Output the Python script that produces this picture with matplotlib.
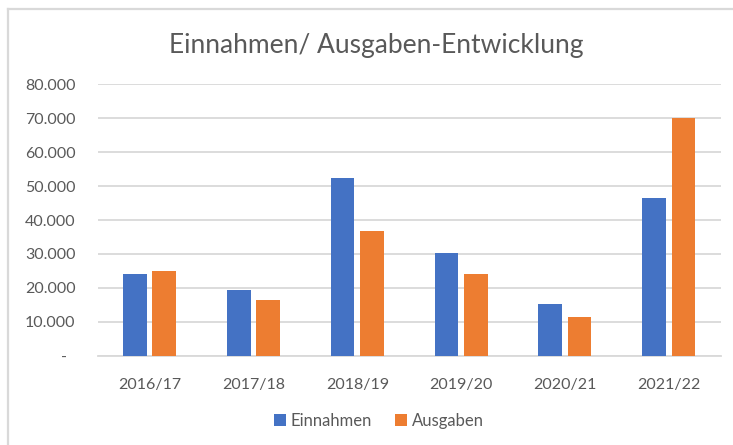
import matplotlib
matplotlib.use("Agg")
import matplotlib.pyplot as plt
import numpy as np

categories = ["2016/17", "2017/18", "2018/19", "2019/20", "2020/21", "2021/22"]
einnahmen = [24000, 19400, 52300, 30300, 15200, 46500]
ausgaben = [25100, 16500, 36700, 24000, 11500, 70000]
ytick_values = [0, 10000, 20000, 30000, 40000, 50000, 60000, 70000, 80000]
ytick_labels = ["-  ", "10.000", "20.000", "30.000", "40.000", "50.000", "60.000", "70.000", "80.000"]
title = "Einnahmen/ Ausgaben-Entwicklung"

plt.rcParams['font.family'] = ['Lato', 'DejaVu Sans']
W, H = 733, 445
fig = plt.figure(figsize=(W / 100, H / 100), dpi=100)
fig.patch.set_facecolor("white")

# outer chart border (left and top visible)
fig.add_artist(plt.Line2D([8 / W, 8 / W], [0, 1 - 9 / H], transform=fig.transFigure,
                          color="#d9d9d9", lw=1.6))
fig.add_artist(plt.Line2D([8 / W, 1], [1 - 9 / H, 1 - 9 / H], transform=fig.transFigure,
                          color="#d9d9d9", lw=1.6))

left, right = 97.7, 720.7
top, bottom = 84.3, 355.7
ax = fig.add_axes([left / W, 1 - bottom / H, (right - left) / W, (bottom - top) / H])

x = np.arange(len(categories))
bw = 0.228
off = 0.1415
ax.bar(x - off, einnahmen, width=bw, color="#4472C4", label="Einnahmen", zorder=3)
ax.bar(x + off, ausgaben, width=bw, color="#ED7D31", label="Ausgaben", zorder=3)

ax.set_xlim(-0.5, len(categories) - 0.5)
ax.set_ylim(0, 80000)
ax.set_yticks(ytick_values)
ax.set_yticklabels(ytick_labels)
ax.set_xticks(x)
ax.set_xticklabels(categories)
ax.tick_params(axis="both", length=0, colors="#595959", labelsize=11.5)
ax.tick_params(axis="y", pad=16)
ax.tick_params(axis="x", pad=16)
ax.grid(axis="y", color="#d9d9d9", lw=1.3, zorder=0)
for s in ["top", "right", "left"]:
    ax.spines[s].set_visible(False)
ax.spines["bottom"].set_color("#d9d9d9")
ax.spines["bottom"].set_linewidth(1.3)

fig.text(376 / W, 1 - 45 / H, title, ha="center", va="center", fontsize=19,
         color="#595959", fontweight="normal")

leg = fig.legend(loc="center", bbox_to_anchor=(379 / W, 1 - 421 / H), ncol=2, frameon=False,
                 fontsize=12, handlelength=0.7, handleheight=0.7, handletextpad=0.3,
                 columnspacing=1.4, labelcolor="#595959")

fig.savefig("out.png", dpi=100, facecolor="white")
